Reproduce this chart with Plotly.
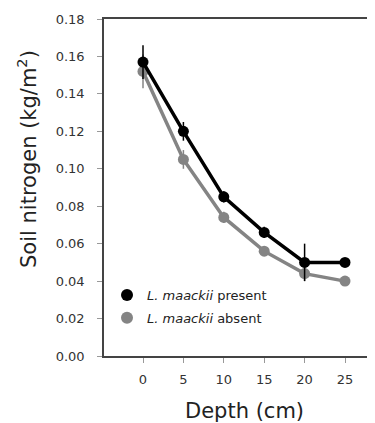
import plotly.graph_objects as go

depth = [0, 5, 10, 15, 20, 25]
present = [0.157, 0.120, 0.085, 0.066, 0.050, 0.050]
present_err = [0.009, 0.005, 0.003, 0.003, 0.010, 0.002]
absent = [0.152, 0.105, 0.074, 0.056, 0.044, 0.040]
absent_err = [0.009, 0.005, 0.003, 0.002, 0.004, 0.002]
y_ticks = [0.00, 0.02, 0.04, 0.06, 0.08, 0.10, 0.12, 0.14, 0.16, 0.18]
x_ticks = [0, 5, 10, 15, 20, 25]

FONT = "DejaVu Sans"
# screen geometry (page body has 8px margin)
PL, PR, PT, PB = 104, 383, 19, 356
PW, PH = PR - PL, PB - PT

fig = go.Figure()
fig.add_trace(go.Scatter(x=depth, y=absent, mode="lines+markers",
                         line=dict(color="#848484", width=3.5),
                         marker=dict(color="#848484", size=11),
                         error_y=dict(type="data", array=absent_err, color="#848484", thickness=1.5, width=0),
                         showlegend=False))
fig.add_trace(go.Scatter(x=depth, y=present, mode="lines+markers",
                         line=dict(color="#000000", width=3.5),
                         marker=dict(color="#000000", size=11),
                         error_y=dict(type="data", array=present_err, color="#000000", thickness=1.5, width=0),
                         showlegend=False))
fig.add_trace(go.Scatter(x=[None], y=[None], mode="markers", marker=dict(color="#000000", size=12),
                         name="<i>L. maackii</i> present", legendgroup="a"))
fig.add_trace(go.Scatter(x=[None], y=[None], mode="markers", marker=dict(color="#848484", size=12),
                         name="<i>L. maackii</i> absent", legendgroup="b"))

fig.add_annotation(text="Soil nitrogen (kg/m<sup>2</sup>)", textangle=-90, showarrow=False,
                   xref="paper", yref="paper", x=(27 - PL) / PW, y=(PB - 159) / PH,
                   xanchor="center", yanchor="middle", font=dict(size=21, color="#222222"))
fig.add_annotation(text="Depth (cm)", showarrow=False,
                   xref="paper", yref="paper", x=(244 - PL) / PW, y=(PB - 411) / PH,
                   xanchor="center", yanchor="middle", font=dict(size=21, color="#222222"))

fig.update_layout(
    width=375, height=423,
    margin=dict(l=PL - 8, r=375 + 8 - PR, t=PT - 8, b=423 + 8 - PB),
    paper_bgcolor="white", plot_bgcolor="white",
    font=dict(family=FONT, color="#333333"),
    legend=dict(x=(107 - PL) / PW, y=(PB - 280) / PH, xanchor="left", yanchor="top", bgcolor="rgba(0,0,0,0)",
                font=dict(size=13, color="#222222"), itemwidth=30, tracegroupgap=3),
    xaxis=dict(range=[-(143 - PL) / 8.08, (PR - 143) / 8.08], tickvals=x_ticks, ticks="outside", ticklen=5,
               tickcolor="#999", ticklabelstandoff=6,
               showline=True, linecolor="#444", linewidth=1.5, mirror=True, showgrid=False, zeroline=False,
               tickfont=dict(size=13)),
    yaxis=dict(range=[0, 0.18], tickvals=y_ticks, tickformat=".2f", ticks="outside", ticklen=5, tickcolor="#999",
               ticklabelstandoff=10,
               showline=True, linecolor="#444", linewidth=1.5, showgrid=False, zeroline=False,
               tickfont=dict(size=13)),
)
fig.write_html("out.html")
